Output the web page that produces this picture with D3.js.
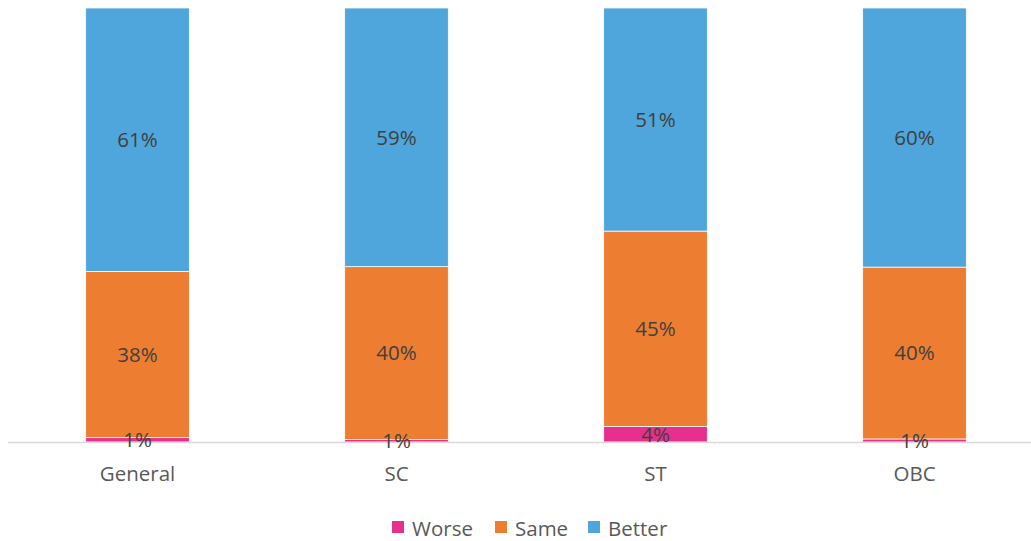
<!DOCTYPE html>
<html><head><meta charset="utf-8">
<script src="https://cdn.jsdelivr.net/npm/d3@7"></script>
<style>body{margin:0;background:#fff;} svg{display:block;}</style>
</head><body><svg id="c" width="1031" height="541"></svg>
<script>
const categories = ["General", "SC", "ST", "OBC"];
const seriesNames = ["Worse", "Same", "Better"];
const worse = [1.0, 0.6, 3.6, 0.7];
const same = [38.3, 39.8, 45.0, 39.6];
const better = [60.7, 59.6, 51.4, 59.7];
const labelWorse = ["1%", "1%", "4%", "1%"];
const labelSame = ["38%", "40%", "45%", "40%"];
const labelBetter = ["61%", "59%", "51%", "60%"];
const colors = ["#e7308d", "#ed7d31", "#4ea6dc"];

const svg = d3.select("#c");
const font = "'Open Sans', sans-serif";
const rows = categories.map((c, i) => ({cat: c, Worse: worse[i], Same: same[i], Better: better[i]}));
const labels = [labelWorse, labelSame, labelBetter];

const x = d3.scaleBand().domain(categories).range([8, 1044]).paddingInner(0.6).paddingOuter(0.3);
const y = d3.scaleLinear().domain([0, 100]).range([442, 8]);

const stack = d3.stack().keys(seriesNames)(rows);

stack.forEach((layer, si) => {
  svg.append("g").selectAll("rect").data(layer).join("rect")
    .attr("x", d => x(d.data.cat))
    .attr("width", x.bandwidth())
    .attr("y", d => y(d[1]))
    .attr("height", d => y(d[0]) - y(d[1]))
    .attr("fill", colors[si])
    .attr("stroke", "#fff").attr("stroke-width", 0.75);
});

// axis line
svg.append("line").attr("x1", 8).attr("x2", 1031).attr("y1", 442.5).attr("y2", 442.5)
  .attr("stroke", "#d9d9d9").attr("stroke-width", 1.5);

// data labels
stack.forEach((layer, si) => {
  svg.append("g").selectAll("text").data(layer).join("text")
    .attr("x", d => x(d.data.cat) + x.bandwidth() / 2)
    .attr("y", d => (y(d[0]) + y(d[1])) / 2)
    .attr("dy", "0.36em")
    .attr("text-anchor", "middle")
    .attr("font-family", font).attr("font-size", 20.5)
    .attr("fill", "#404040")
    .text((d, i) => labels[si][i]);
});

// category axis labels
const xAxis = d3.axisBottom(x).tickSize(0).tickPadding(0);
const ax = svg.append("g").attr("transform", "translate(0,442)").call(xAxis);
ax.select(".domain").remove();
ax.selectAll("text").attr("font-family", font).attr("font-size", 20.5).attr("fill", "#595959")
  .attr("y", 39).attr("dy", "0");

// legend
const legendX = [392, 495, 588];
const lg = svg.append("g");
seriesNames.forEach((n, i) => {
  lg.append("rect").attr("x", legendX[i]).attr("y", 521).attr("width", 12).attr("height", 12).attr("fill", colors[i]);
  lg.append("text").attr("x", legendX[i] + 20).attr("y", 535.5)
    .attr("font-family", font).attr("font-size", 20.5).attr("fill", "#595959").text(n);
});
</script></body></html>
